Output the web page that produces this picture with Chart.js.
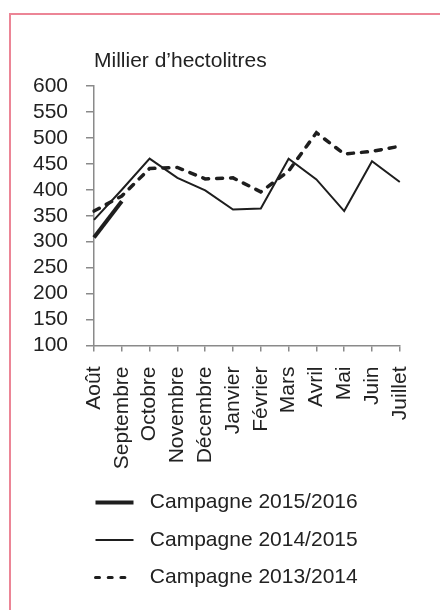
<!DOCTYPE html>
<html lang="fr">
<head>
<meta charset="utf-8">
<script src="https://cdn.jsdelivr.net/npm/chart.js@4.4.1/dist/chart.umd.min.js"></script>
<style>
  html, body { margin: 0; padding: 0; background: #fff; }
  #wrap { position: relative; width: 440px; height: 610px; overflow: hidden; }
  #frame { position: absolute; left: 9px; top: 13px; width: 460px; height: 620px;
           border-left: 2px solid #ec8596; border-top: 2px solid #ec8596; }
  canvas { position: absolute; left: 0; top: 0; }
</style>
</head>
<body>
<div id="wrap">
  <div id="frame"></div>
  <canvas id="chart" width="440" height="610"></canvas>
</div>
<script>
const mois = ['Août', 'Septembre', 'Octobre', 'Novembre', 'Décembre', 'Janvier',
              'Février', 'Mars', 'Avril', 'Mai', 'Juin', 'Juillet'];
const campagne2015 = [308, 378, null, null, null, null, null, null, null, null, null, null];
const campagne2014 = [342, 400, 460, 423, 399, 362, 364, 460, 420, 359, 455, 415];
const campagne2013 = [359, 388, 441, 443, 421, 423, 396, 436, 510, 469, 474, 484];
const yMin = 100, yMax = 600, yStep = 50;
const unite = 'Millier d’hectolitres';

const police = '"Liberation Sans", Arial, sans-serif';
const encre = '#1e1e1e';
const gris = '#8a8a8a';

// unit label above the y axis
const titreUnite = {
  id: 'titreUnite',
  afterDraw(chart) {
    const { ctx, chartArea } = chart;
    ctx.save();
    ctx.font = '21px ' + police;
    ctx.fillStyle = '#222';
    ctx.textAlign = 'left';
    ctx.textBaseline = 'middle';
    ctx.fillText(unite, chartArea.left, 61);
    ctx.restore();
  }
};

new Chart(document.getElementById('chart'), {
  type: 'line',
  data: {
    labels: mois,
    datasets: [
      { label: ' Campagne 2015/2016', data: campagne2015, borderColor: encre, borderWidth: 4 },
      { label: ' Campagne 2014/2015', data: campagne2014, borderColor: encre, borderWidth: 2 },
      { label: ' Campagne 2013/2014', data: campagne2013, borderColor: encre, borderWidth: 3.5,
        borderDash: [6, 8], borderCapStyle: 'round' }
    ]
  },
  options: {
    responsive: false,
    animation: false,
    devicePixelRatio: 1,
    elements: {
      point: { radius: 0, hoverRadius: 0 },
      line: { tension: 0, fill: false, borderJoinStyle: 'miter' }
    },
    layout: { padding: { left: 79, right: 30, top: 86, bottom: 12 } },
    scales: {
      x: {
        offset: false,
        afterFit: (s) => { s.height = 130; },
        grid: { drawOnChartArea: false, tickLength: 6, color: gris, lineWidth: 1.5 },
        border: { color: gris, width: 1.5 },
        ticks: {
          autoSkip: false, minRotation: 90, maxRotation: 90, padding: 15,
          color: '#222', font: { family: police, size: 21 }
        }
      },
      y: {
        min: yMin, max: yMax,
        afterFit: (s) => { s.width = 15; },
        grid: { drawOnChartArea: false, tickLength: 8, color: gris, lineWidth: 1.5 },
        border: { color: gris, width: 1.5 },
        ticks: {
          stepSize: yStep, autoSkip: false, maxTicksLimit: 20,
          // mirrored so the labels are not clipped to the narrow axis box
          mirror: true, padding: -61,
          color: '#222', font: { family: police, size: 21, lineHeight: 1 }
        }
      }
    },
    plugins: {
      tooltip: { enabled: false },
      legend: {
        position: 'bottom',
        align: 'start',
        labels: {
          usePointStyle: true,
          pointStyleWidth: 38,
          padding: 16.5,
          color: '#222',
          font: { family: police, size: 21 },
          generateLabels: (chart) => chart.data.datasets.map((ds, i) => ({
            text: ds.label,
            datasetIndex: i,
            fillStyle: ds.borderColor,
            strokeStyle: ds.borderColor,
            fontColor: '#222',
            lineWidth: ds.borderDash ? 3 : ds.borderWidth,
            lineDash: ds.borderDash ? [4, 8.7] : [],
            lineCap: ds.borderDash ? 'round' : 'butt',
            pointStyle: 'line',
            hidden: false
          }))
        }
      }
    }
  },
  plugins: [titreUnite]
});
</script>
</body>
</html>
